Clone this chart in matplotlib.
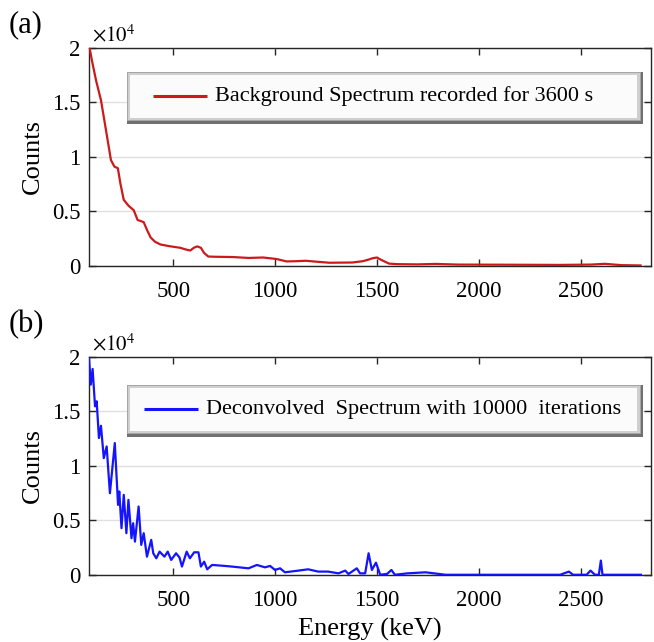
import numpy as np
import matplotlib
matplotlib.use("Agg")
import matplotlib.pyplot as plt
from matplotlib.patches import Rectangle

plt.rcParams['font.family'] = ['Liberation Serif', 'DejaVu Serif']
plt.rcParams['mathtext.fontset'] = 'stix'

# background spectrum (a), energy in keV, counts
bg_energy = [88, 100, 120, 144, 170, 193, 210, 227, 240, 256, 280, 305, 324, 340, 354,
             370, 388, 410, 437, 480, 534, 560, 583, 600, 617, 635, 650, 671, 700, 793,
             870, 940, 970, 1007, 1056, 1100, 1150, 1200, 1266, 1378, 1430, 1461, 1480,
             1500, 1520, 1559, 1600, 1700, 1788, 1900, 2100, 2400, 2550, 2620, 2700, 2795]
bg_counts = [20000, 18800, 17000, 15200, 12300, 9700, 9100, 8950, 7500, 6050, 5500, 5100,
             4200, 4100, 4000, 3300, 2600, 2200, 1950, 1800, 1650, 1500, 1400, 1650, 1780,
             1650, 1200, 850, 830, 800, 720, 760, 700, 620, 400, 420, 460, 380, 280, 300,
             420, 580, 700, 760, 550, 200, 150, 130, 170, 110, 100, 80, 110, 180, 60, 30]

# deconvolved spectrum (b)
dc_energy = [85, 94, 103, 115, 123, 134, 144, 158, 172, 188, 212, 228, 234, 245, 256, 269,
             279, 294, 302, 311, 329, 342, 354, 370, 391, 401, 416, 432, 456, 472, 489, 513,
             530, 542, 565, 581, 602, 623, 635, 651, 666, 690, 740, 788, 869, 910, 950, 975,
             999, 1024, 1048, 1114, 1162, 1211, 1260, 1311, 1344, 1360, 1401, 1417, 1442,
             1459, 1475, 1495, 1516, 1550, 1571, 1588, 1650, 1739, 1837, 2000, 2200, 2400,
             2443, 2463, 2530, 2549, 2571, 2590, 2600, 2608, 2797]
dc_counts = [20000, 17460, 18900, 15470, 15930, 12560, 13690, 10720, 11790, 7500, 12100,
             6430, 7660, 4290, 7350, 3830, 6890, 3370, 4750, 3060, 6280, 2760, 3830, 1680,
             3220, 1990, 1530, 2140, 1680, 2140, 1380, 1990, 1600, 770, 2140, 1530, 2080,
             2080, 770, 1220, 520, 920, 850, 770, 610, 920, 700, 830, 460, 610, 245, 400,
             520, 310, 310, 150, 400, 90, 610, 150, 150, 1990, 460, 1130, 20, 100, 460, 20,
             150, 245, 20, 20, 20, 20, 310, 20, 20, 400, 20, 20, 1320, 20, 20]

x_ticks = [500, 1000, 1500, 2000, 2500]
y_ticks = [0, 5000, 10000, 15000, 20000]
y_labels = ['0', '0.5', '1', '1.5', '2']

fig = plt.figure(figsize=(6.54, 6.42), dpi=100)
ax_a = fig.add_axes([0.136, 0.586, 0.859, 0.3396])
ax_b = fig.add_axes([0.136, 0.1044, 0.859, 0.3396])

W, H = 0.859 * 654, 0.3396 * 642  # axes size in pixels


def draw_legend(ax, y_top, y_bot, x_left, x_right, color, label, lx0, lx1, tx):
    # matlab style beveled legend box
    dx, dy = 1.0 / W, 1.0 / H
    ax.add_patch(Rectangle((x_left, y_bot), x_right - x_left, y_top - y_bot,
                           transform=ax.transAxes, fc='#707070', ec='none', zorder=5))
    ax.add_patch(Rectangle((x_left, y_bot + 4 * dy), x_right - x_left - 3 * dx,
                           y_top - y_bot - 4 * dy, transform=ax.transAxes,
                           fc='#cfcfcf', ec='#a8a8a8', lw=0.6, zorder=6))
    ax.add_patch(Rectangle((x_left + 3 * dx, y_bot + 6 * dy), x_right - x_left - 9 * dx,
                           y_top - y_bot - 9 * dy, transform=ax.transAxes,
                           fc='#fbfbfb', ec='none', zorder=7))
    yc = (y_top + y_bot) / 2 + 1.5 * dy
    ax.plot([lx0, lx1], [yc, yc], transform=ax.transAxes, color=color, lw=2.2,
            zorder=8, solid_capstyle='butt')
    ax.text(tx, yc, label, transform=ax.transAxes, fontsize=16, va='center',
            ha='left', zorder=8)


for ax, xs, ys, color in [(ax_a, bg_energy, bg_counts, '#cc1a1a'),
                          (ax_b, dc_energy, dc_counts, '#1414ff')]:
    ax.plot(xs, ys, color=color, lw=1.6, zorder=3)
    ax.set_xlim(85, 2845)
    ax.set_ylim(0, 20000)
    ax.set_xticks(x_ticks)
    ax.set_xticklabels([str(t) for t in x_ticks])
    ax.set_yticks(y_ticks)
    ax.set_yticklabels(y_labels)
    ax.yaxis.grid(True, color='#e0e0e0', lw=1.0)
    ax.set_axisbelow(True)
    ax.tick_params(direction='in', top=True, right=True, length=5, width=1,
                   labelsize=16.5, colors='#262626')
    ax.tick_params(axis='x', labelcolor='black', pad=11)
    ax.tick_params(axis='y', labelcolor='black', pad=6)
    for s in ax.spines.values():
        s.set_color('#262626')
        s.set_linewidth(1.0)
    ax.set_ylabel('Counts', fontsize=19, labelpad=6)
    ax.text(0.005, 1.005, r'$\times10^{4}$', transform=ax.transAxes, fontsize=15,
            ha='left', va='bottom')

draw_legend(ax_a, 0.89, 0.651, 0.0676, 0.986, '#cc1a1a',
            'Background Spectrum recorded for 3600 s', 0.114, 0.21, 0.224)
draw_legend(ax_b, 0.872, 0.634, 0.0676, 0.986, '#1414ff',
            'Deconvolved  Spectrum with 10000  iterations', 0.098, 0.194, 0.208)

ax_b.set_xlabel('Energy (keV)', fontsize=19, labelpad=5)

fig.text(0.013, 0.961, '(a)', fontsize=22, va='center', ha='left')
fig.text(0.013, 0.494, '(b)', fontsize=22, va='center', ha='left')

fig.savefig('out.png', dpi=100)
